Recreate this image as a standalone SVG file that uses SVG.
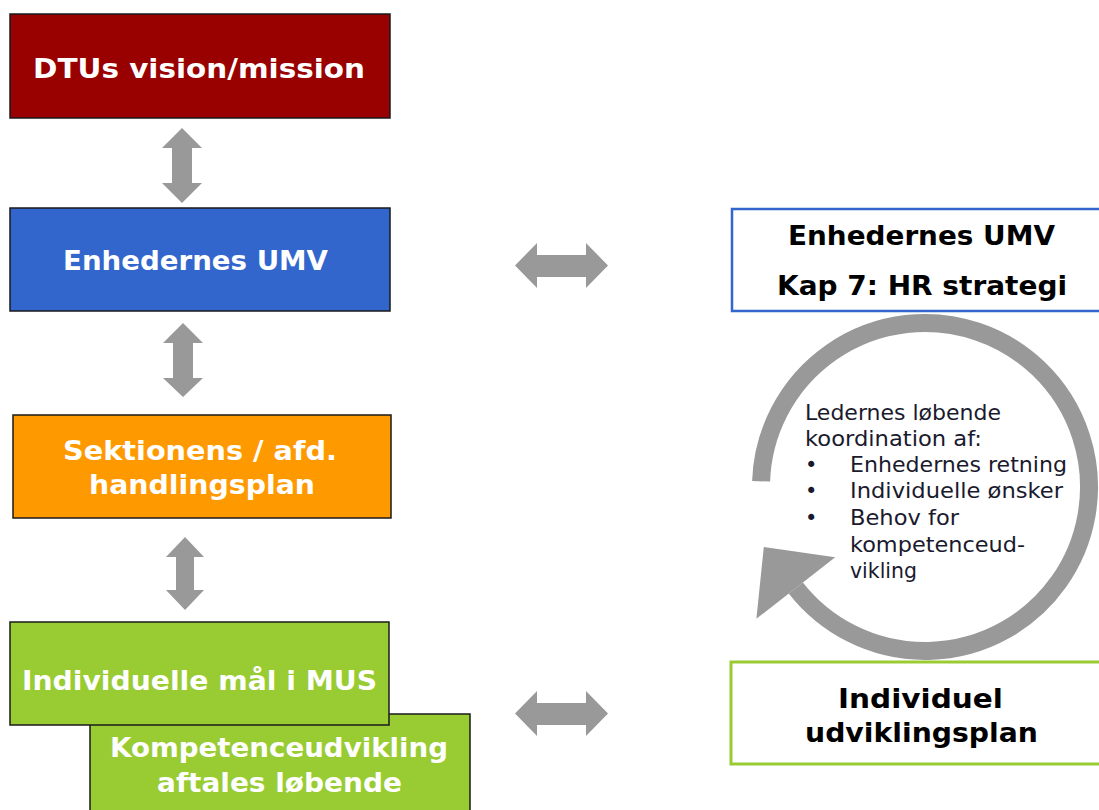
<svg xmlns="http://www.w3.org/2000/svg" width="1099" height="810" viewBox="0 0 1099 810">
<style>
.box{stroke:#1a1a1a;stroke-width:1.5}
.t{font-family:"DejaVu Sans","Verdana",sans-serif;font-weight:bold;font-size:27px}
.w{fill:#ffffff}
.k{fill:#000000}
.arr{fill:#999999;stroke:none}
.c{font-family:"DejaVu Sans","Verdana",sans-serif;font-size:21px;fill:#1a1a2e}
</style>
<rect width="1099" height="810" fill="#ffffff"/>
<g id="connectors">
  <polygon class="arr" points="182,128 202,148 192,148 192,183 202,183 182,203 162,183 172,183 172,148 162,148"/>
  <polygon class="arr" points="183,323 203,343 193,343 193,378 203,378 183,397 163,378 173,378 173,343 163,343"/>
  <polygon class="arr" points="185,537 204,557 194,557 194,590 204,590 185,610 166,590 176,590 176,557 166,557"/>
  <polygon class="arr" points="515,265.5 537,243 537,255 586,255 586,243 608,265.5 586,288 586,277 537,277 537,288"/>
  <polygon class="arr" points="515,713.5 537,691 537,703 586,703 586,691 608,713.5 586,736 586,725 537,725 537,736"/>
  <path d="M761.1,481.3 A164,164 0 1 1 795.8,588" fill="none" stroke="#999999" stroke-width="18"/>
  <polygon class="arr" points="835.2,557.2 756.4,618.8 763.8,547"/>
</g>
<g id="n1">
  <rect class="box" x="10" y="14" width="380" height="104" fill="#990000"/>
  <text class="t w" x="33" y="78" font-size="29" textLength="332" lengthAdjust="spacingAndGlyphs">DTUs vision/mission</text>
</g>
<g id="n2">
  <rect class="box" x="10" y="208" width="380" height="103" fill="#3366CC"/>
  <text class="t w" x="63" y="270" textLength="265" lengthAdjust="spacingAndGlyphs">Enhedernes UMV</text>
</g>
<g id="n3">
  <rect class="box" x="13" y="415" width="378" height="103" fill="#FF9900"/>
  <text class="t w" x="63" y="460" textLength="274" lengthAdjust="spacingAndGlyphs">Sektionens / afd.</text>
  <text class="t w" x="89" y="494" textLength="226" lengthAdjust="spacingAndGlyphs">handlingsplan</text>
</g>
<g id="n5">
  <rect class="box" x="90" y="714" width="380" height="110" fill="#99CC33"/>
  <text class="t w" x="110" y="757" textLength="338" lengthAdjust="spacingAndGlyphs">Kompetenceudvikling</text>
  <text class="t w" x="157" y="792" textLength="245" lengthAdjust="spacingAndGlyphs">aftales løbende</text>
</g>
<g id="n4">
  <rect class="box" x="10" y="622" width="379" height="103" fill="#99CC33"/>
  <text class="t w" x="22" y="690" font-size="30" textLength="355" lengthAdjust="spacingAndGlyphs">Individuelle mål i MUS</text>
</g>
<g id="n6">
  <rect x="732" y="209" width="380" height="102" fill="#ffffff" stroke="#3366CC" stroke-width="2.5"/>
  <text class="t k" x="788" y="245" textLength="267" lengthAdjust="spacingAndGlyphs">Enhedernes UMV</text>
  <text class="t k" x="777" y="295" textLength="290" lengthAdjust="spacingAndGlyphs">Kap 7: HR strategi</text>
</g>
<g id="n7">
  <text class="c" x="805" y="420" textLength="196" lengthAdjust="spacingAndGlyphs">Ledernes løbende</text>
  <text class="c" x="805" y="446" textLength="177" lengthAdjust="spacingAndGlyphs">koordination af:</text>
  <text class="c" x="805" y="472">•</text>
  <text class="c" x="850" y="472" textLength="217" lengthAdjust="spacingAndGlyphs">Enhedernes retning</text>
  <text class="c" x="805" y="498">•</text>
  <text class="c" x="850" y="498" textLength="213" lengthAdjust="spacingAndGlyphs">Individuelle ønsker</text>
  <text class="c" x="805" y="525">•</text>
  <text class="c" x="850" y="525" textLength="109" lengthAdjust="spacingAndGlyphs">Behov for</text>
  <text class="c" x="850" y="552" textLength="175" lengthAdjust="spacingAndGlyphs">kompetenceud-</text>
  <text class="c" x="850" y="578" textLength="67" lengthAdjust="spacingAndGlyphs">vikling</text>
</g>
<g id="n8">
  <rect x="731" y="662" width="380" height="102" fill="#ffffff" stroke="#99CC33" stroke-width="3"/>
  <text class="t k" x="838" y="708" textLength="165" lengthAdjust="spacingAndGlyphs">Individuel</text>
  <text class="t k" x="805" y="742" textLength="233" lengthAdjust="spacingAndGlyphs">udviklingsplan</text>
</g>
</svg>
